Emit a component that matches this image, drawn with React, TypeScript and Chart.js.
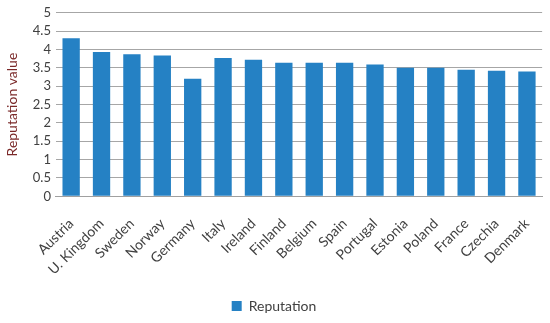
import React, { useEffect, useRef } from "react";
import { Chart, registerables } from "chart.js";

Chart.register(...registerables);

const countries = ["Austria", "U. Kingdom", "Sweden", "Norway", "Germany", "Italy", "Ireland", "Finland", "Belgium", "Spain", "Portugal", "Estonia", "Poland", "France", "Czechia", "Denmark"];
const reputation = [4.31, 3.93, 3.87, 3.84, 3.2, 3.77, 3.72, 3.64, 3.64, 3.64, 3.59, 3.5, 3.5, 3.45, 3.42, 3.4];
const yTicks = [0, 0.5, 1, 1.5, 2, 2.5, 3, 3.5, 4, 4.5, 5];

const FONT = "Lato, 'Open Sans', sans-serif";

export default function App() {
  const ref = useRef<HTMLCanvasElement | null>(null);
  useEffect(() => {
    document.body.style.margin = "0";
    const ctx = ref.current!;
    const chart = new Chart(ctx, {
      type: "bar",
      data: {
        labels: countries,
        datasets: [
          {
            label: "Reputation",
            data: reputation,
            backgroundColor: "#2581C4",
            borderWidth: 0,
            categoryPercentage: 1,
            barPercentage: 0.57,
          },
        ],
      },
      options: {
        animation: false,
        responsive: false,
        maintainAspectRatio: false,
        layout: { padding: { left: 4, right: 6, top: 6, bottom: 0 } },
        plugins: {
          legend: {
            position: "bottom",
            labels: {
              boxWidth: 10,
              boxHeight: 10,
              color: "#404040",
              font: { family: FONT, size: 14 },
              padding: 10,
            },
          },
          tooltip: { enabled: false },
        },
        scales: {
          x: {
            grid: { display: false },
            border: { color: "#a0a0a0" },
            ticks: {
              color: "#404040",
              font: { family: FONT, size: 14 },
              maxRotation: 45,
              minRotation: 45,
              autoSkip: false,
              padding: 11,
            },
          },
          y: {
            min: 0,
            max: 5,
            afterBuildTicks: (axis: any) => {
              axis.ticks = yTicks.map((v) => ({ value: v }));
            },
            grid: { color: "#a6a6a6", drawTicks: false, lineWidth: 1 },
            border: { display: false },
            ticks: {
              color: "#404040",
              font: { family: FONT, size: 13 },
              padding: 5,
              autoSkip: false,
              callback: (v: any) => String(v),
            },
            title: {
              display: true,
              text: "Reputation value",
              color: "#7b2a2a",
              font: { family: FONT, size: 14 },
              padding: { top: 0, bottom: 7 },
            },
          },
        },
      },
    });
    return () => chart.destroy();
  }, []);
  return (
    <div style={{ width: 550, height: 323 }}>
      <canvas ref={ref} width={550} height={323} style={{ display: "block" }} />
    </div>
  );
}
